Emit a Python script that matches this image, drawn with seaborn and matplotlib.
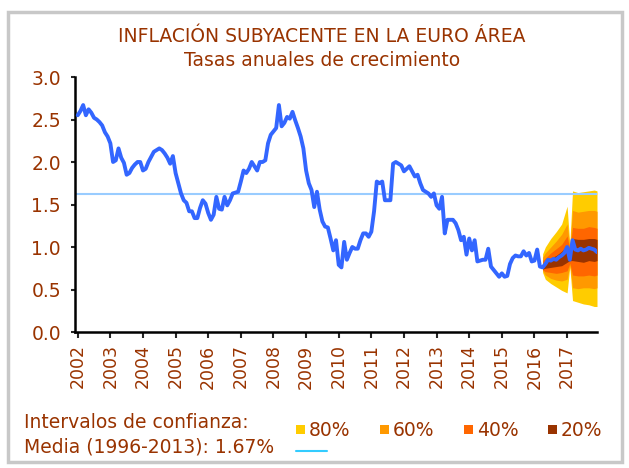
import numpy as np
import pandas as pd
import matplotlib
matplotlib.use("Agg")
import matplotlib.pyplot as plt
from matplotlib.patches import Rectangle
from matplotlib.lines import Line2D
import seaborn as sns

sns.set_style("white")
plt.rcParams['font.family'] = ['DejaVu Sans']

# Inflación subyacente, tasa anual (%), mensual desde ene-2002 hasta abr-2016
subyacente = [
    2.55, 2.60, 2.67, 2.55, 2.62, 2.58, 2.52, 2.50, 2.47, 2.43, 2.35, 2.30,  # 2002
    2.22, 2.00, 2.02, 2.16, 2.05, 1.99, 1.85, 1.87, 1.93, 1.97, 2.00, 2.00,  # 2003
    1.90, 1.92, 2.00, 2.06, 2.12, 2.14, 2.16, 2.14, 2.10, 2.05, 1.98, 2.07,  # 2004
    1.87, 1.75, 1.63, 1.55, 1.52, 1.42, 1.42, 1.34, 1.34, 1.46, 1.55, 1.51,  # 2005
    1.40, 1.32, 1.38, 1.59, 1.45, 1.44, 1.59, 1.49, 1.55, 1.63, 1.64, 1.65,  # 2006
    1.77, 1.90, 1.87, 1.92, 2.00, 1.95, 1.90, 2.00, 2.00, 2.02, 2.22, 2.32,  # 2007
    2.36, 2.40, 2.67, 2.42, 2.46, 2.53, 2.51, 2.59, 2.49, 2.40, 2.30, 2.16,  # 2008
    1.90, 1.75, 1.67, 1.47, 1.65, 1.44, 1.30, 1.24, 1.23, 1.10, 0.96, 1.08,  # 2009
    0.79, 0.76, 1.06, 0.85, 0.93, 1.00, 0.98, 0.98, 1.08, 1.16, 1.16, 1.12,  # 2010
    1.18, 1.42, 1.77, 1.75, 1.77, 1.55, 1.55, 1.55, 1.98, 2.00, 1.98, 1.96,  # 2011
    1.89, 1.92, 1.95, 1.89, 1.83, 1.85, 1.75, 1.67, 1.65, 1.63, 1.59, 1.63,  # 2012
    1.49, 1.45, 1.59, 1.16, 1.32, 1.32, 1.32, 1.28, 1.20, 1.08, 1.12, 0.91,  # 2013
    1.10, 0.96, 1.08, 0.83, 0.84, 0.85, 0.85, 0.98, 0.77, 0.73, 0.69, 0.65,  # 2014
    0.69, 0.65, 0.66, 0.80, 0.87, 0.90, 0.89, 0.89, 0.95, 0.90, 0.93, 0.83,  # 2015
    0.84, 0.97, 0.77, 0.76,                                                  # 2016
]

# Predicción puntual, abr-2016 a dic-2017
prevision = [0.76, 0.80, 0.85, 0.84, 0.86, 0.85, 0.88, 0.90, 0.93, 1.00, 0.85,
             1.08, 0.97, 0.96, 0.98, 0.96, 0.97, 0.99, 0.98, 0.97, 0.94]

# Intervalos de confianza (mes índice desde ene-2002)
mes_banda = [171, 172, 174, 176, 178, 180, 181, 182, 184, 186, 188, 190, 191]
ic80_inf = [0.70, 0.62, 0.57, 0.53, 0.49, 0.46, 0.77, 0.37, 0.35, 0.33, 0.32, 0.30, 0.30]
ic80_sup = [0.92, 1.00, 1.10, 1.18, 1.27, 1.48, 1.03, 1.66, 1.64, 1.65, 1.66, 1.67, 1.66]
ic60_inf = [0.72, 0.67, 0.63, 0.61, 0.60, 0.62, 0.79, 0.52, 0.51, 0.52, 0.52, 0.51, 0.52]
ic60_sup = [0.88, 0.93, 1.00, 1.07, 1.15, 1.27, 1.00, 1.43, 1.41, 1.42, 1.43, 1.43, 1.42]
ic40_inf = [0.73, 0.71, 0.70, 0.69, 0.70, 0.72, 0.81, 0.67, 0.66, 0.66, 0.67, 0.66, 0.67]
ic40_sup = [0.84, 0.87, 0.93, 0.98, 1.03, 1.13, 0.97, 1.23, 1.22, 1.22, 1.24, 1.23, 1.22]
ic20_inf = [0.74, 0.75, 0.76, 0.77, 0.78, 0.82, 0.84, 0.84, 0.83, 0.82, 0.84, 0.83, 0.84]
ic20_sup = [0.80, 0.83, 0.87, 0.90, 0.95, 1.02, 0.93, 1.10, 1.09, 1.09, 1.10, 1.10, 1.09]

media = 1.62
anios = [str(a) for a in range(2002, 2018)]

marron = '#993300'
colores_ic = {'80%': '#FFCC00', '60%': '#FF9900', '40%': '#FF6600', '20%': '#993300'}

df = pd.DataFrame({
    'mes': np.arange(len(subyacente) + len(prevision) - 1),
    'valor': subyacente + prevision[1:],
})

fig = plt.figure(figsize=(6.29, 4.68), dpi=100)
ax = fig.add_axes([75 / 629, 1 - 332 / 468, 522 / 629, 255 / 468])

# abanico
bandas = [('80%', ic80_inf, ic80_sup), ('60%', ic60_inf, ic60_sup),
          ('40%', ic40_inf, ic40_sup), ('20%', ic20_inf, ic20_sup)]
for nombre, inf, sup in bandas:
    ax.fill_between(mes_banda, inf, sup, color=colores_ic[nombre], lw=0, zorder=1)

ax.axhline(media, color='#99CCFF', lw=1.5, zorder=2)
sns.lineplot(data=df, x='mes', y='valor', ax=ax, color='#3366FF', linewidth=2.8, zorder=3)

ax.set_xlim(-1, 191)
ax.set_ylim(0, 3)
ax.set_yticks(np.arange(0, 3.01, 0.5))
ax.set_yticklabels([f'{v:.1f}' for v in np.arange(0, 3.01, 0.5)])
ax.set_xticks(np.arange(0, 192, 12))
ax.set_xticklabels(anios, rotation=90)
ax.set_xlabel('')
ax.set_ylabel('')

for s in ['top', 'right']:
    ax.spines[s].set_visible(False)
for s in ['left', 'bottom']:
    ax.spines[s].set_linewidth(1.8)
    ax.spines[s].set_color('black')

ax.tick_params(axis='y', direction='out', length=3, width=1.5, pad=7,
               labelsize=13.5, labelcolor=marron, left=True)
ax.tick_params(axis='x', direction='out', length=4, width=1.5, pad=5,
               labelsize=12.5, labelcolor=marron, bottom=True)

fig.text(0.512, 1 - 37 / 468, 'INFLACIÓN SUBYACENTE EN LA EURO ÁREA',
         ha='center', va='center', fontsize=13.5, color=marron)
fig.text(0.512, 1 - 60 / 468, 'Tasas anuales de crecimiento',
         ha='center', va='center', fontsize=13.5, color=marron)

# leyenda manual
fig.text(24 / 629, 1 - 422 / 468, 'Intervalos de confianza:',
         ha='left', va='center', fontsize=13.5, color=marron)
fig.text(24 / 629, 1 - 447 / 468, 'Media (1996-2013): 1.67%',
         ha='left', va='center', fontsize=13.5, color=marron)
for i, nombre in enumerate(['80%', '60%', '40%', '20%']):
    x0 = 296 + i * 84
    fig.add_artist(Rectangle((x0 / 629, 1 - 434 / 468), 9 / 629, 9 / 468,
                             transform=fig.transFigure, color=colores_ic[nombre], lw=0))
    fig.text((x0 + 13) / 629, 1 - 430 / 468, nombre, ha='left', va='center',
             fontsize=13.5, color=marron)
fig.add_artist(Line2D([296 / 629, 327 / 629], [1 - 451 / 468, 1 - 451 / 468],
                      transform=fig.transFigure, color='#33CCFF', lw=1.5))

# marco del gráfico
fig.add_artist(Rectangle((8 / 629, 6 / 468), 614 / 629, 450 / 468,
                         transform=fig.transFigure, fill=False,
                         edgecolor='#C8C8C8', lw=2.5))

fig.savefig('out.png', dpi=100)
